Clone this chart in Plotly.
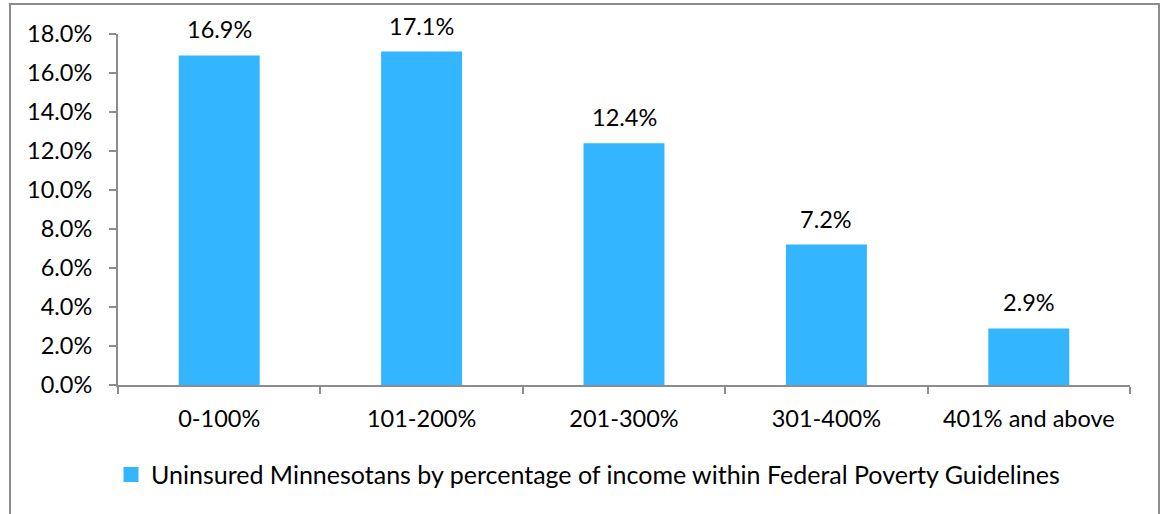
import plotly.graph_objects as go

categories = ["0-100%", "101-200%", "201-300%", "301-400%", "401% and above"]
values = [16.9, 17.1, 12.4, 7.2, 2.9]
value_labels = ["16.9%", "17.1%", "12.4%", "7.2%", "2.9%"]
series_name = "Uninsured Minnesotans by percentage of income within Federal Poverty Guidelines"

FONT = "Lato, Carlito, Calibri, sans-serif"
BAR = "#33B5FF"
AX = "#8C8C8C"

fig = go.Figure()
fig.add_trace(go.Bar(
    x=categories, y=values, name=series_name,
    marker=dict(color=BAR, line=dict(width=0)),
    width=0.4, showlegend=False,
))
# legend proxy (square swatch like the original)
fig.add_trace(go.Scatter(
    x=[None], y=[None], mode="markers", name=series_name,
    marker=dict(symbol="square", size=15, color=BAR), showlegend=True,
))

for c, v, t in zip(categories, values, value_labels):
    fig.add_annotation(x=c, y=v, text=t, showarrow=False, yanchor="bottom",
                       yshift=10, font=dict(family=FONT, size=23.5, color="#000"))

W, H = 1163, 514
ml, mr, mt, mb = 118, 33, 34, 129
pw, ph = W - ml - mr, H - mt - mb
fig.add_shape(type="rect", xref="paper", yref="paper",
              x0=(10 - ml) / pw, x1=(1159 - ml) / pw,
              y0=(H - 530 - mb) / ph, y1=(H - 4 - mb) / ph,
              line=dict(color="#8C8C8C", width=2), fillcolor="rgba(0,0,0,0)", layer="below")

fig.update_layout(
    width=W, height=H,
    margin=dict(l=ml, r=mr, t=mt, b=mb, autoexpand=False),
    paper_bgcolor="white", plot_bgcolor="white",
    font=dict(family=FONT, size=23.5, color="#000"),
    bargap=0.6,
    showlegend=True,
    legend=dict(orientation="h", x=-7 / pw, xanchor="left", y=-0.256, yanchor="middle",
                font=dict(family=FONT, size=25, color="#000"), itemsizing="trace",
                bgcolor="rgba(0,0,0,0)"),
    xaxis=dict(showline=True, linecolor=AX, linewidth=2, ticks="outside", tickson="boundaries",
               ticklen=7, tickcolor=AX, tickwidth=2, showgrid=False, zeroline=False,
               ticklabelstandoff=12, tickfont=dict(family=FONT, size=23.5)),
    yaxis=dict(range=[0, 18], dtick=2, tickformat=".1f", ticksuffix="%", showline=True,
               linecolor=AX, linewidth=2, ticks="outside", ticklen=7, tickcolor=AX, tickwidth=2,
               showgrid=False, zeroline=False, ticklabelstandoff=12,
               tickfont=dict(family=FONT, size=23.5)),
)

fig.write_html("out.html", config={"displayModeBar": False},
               post_script="document.body.style.margin='0';")
